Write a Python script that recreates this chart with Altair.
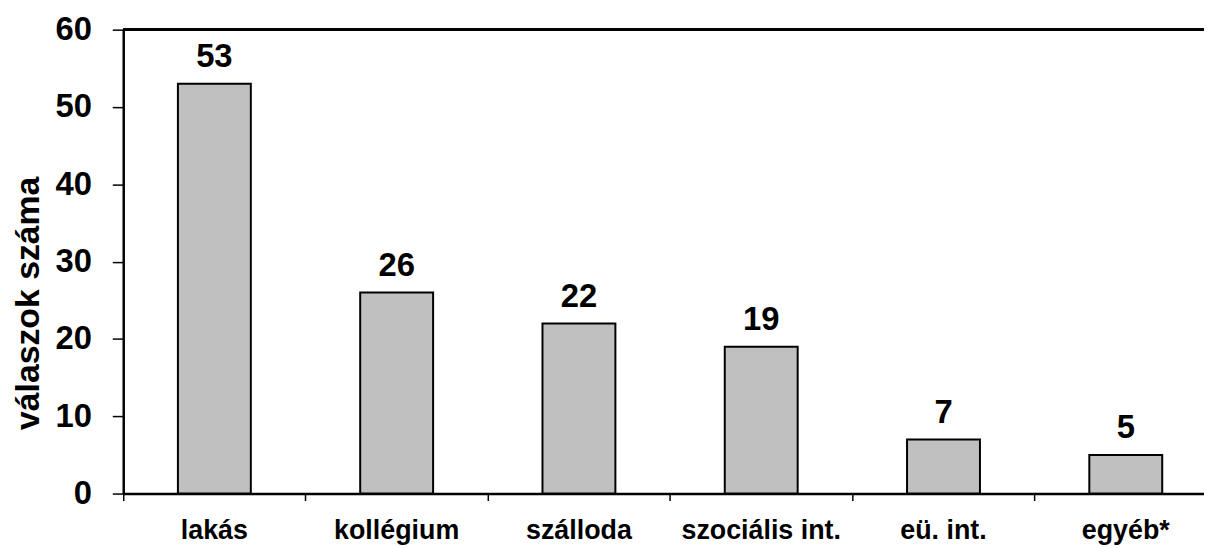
import altair as alt
import pandas as pd

categories = ["lakás", "kollégium", "szálloda", "szociális int.", "eü. int.", "egyéb*"]
values = [53, 26, 22, 19, 7, 5]
y_ticks = [0, 10, 20, 30, 40, 50, 60]

df = pd.DataFrame({"cat": categories, "val": values})

FONT = "Liberation Sans"
STEP_RANGE = 1101

xscale = alt.Scale(domain=categories, range=[0, STEP_RANGE], paddingInner=0, paddingOuter=0)
yscale = alt.Scale(domain=[0, 60])

base = alt.Chart(df)

bars = base.mark_bar(
    width=alt.RelativeBandSize(0.4), color="#C0C0C0", stroke="black", strokeWidth=2
).encode(
    x=alt.X("cat:N", scale=xscale, sort=categories,
            axis=alt.Axis(title=None, labelAngle=0, bandPosition=0,
                          domainColor="black", domainWidth=2.5, tickColor="black", tickWidth=1.5,
                          tickSize=7, labelFont=FONT, labelFontSize=27, labelFontWeight="bold",
                          labelColor="black", labelBaseline="alphabetic", labelPadding=38,
                          labelAlign="center")),
    y=alt.Y("val:Q", scale=yscale,
            axis=alt.Axis(title="válaszok száma", values=y_ticks, grid=False,
                          domainColor="black", domainWidth=2.5, tickColor="black", tickWidth=1.5,
                          tickSize=11, labelFont=FONT, labelFontSize=33, labelFontWeight="bold",
                          labelColor="black", labelPadding=21, labelBaseline="middle",
                          titleFont=FONT, titleFontSize=34, titleFontWeight="bold",
                          titleColor="black", titleAngle=-90, titleBaseline="alphabetic",
                          titleAlign="center", titleX=-85, titleY=275)),
)

labels = base.mark_text(
    font=FONT, fontSize=33, fontWeight="bold", color="black", baseline="alphabetic", dy=-17
).encode(
    x=alt.X("cat:N", scale=xscale, sort=categories),
    y=alt.Y("val:Q", scale=yscale),
    text=alt.Text("val:Q"),
)

top_border = base.mark_rule(color="black", strokeWidth=2.5).encode(
    x=alt.value(0), x2=alt.value(STEP_RANGE), y=alt.value(0)
)

chart = alt.layer(bars, labels, top_border).properties(
    width=1088,
    height=467,
    autosize=alt.AutoSizeParams(type="none"),
    padding={"left": 116, "top": 20, "right": 0, "bottom": 52},
).configure_view(stroke=None)

chart.save("out.html", embed_options={"renderer": "svg", "actions": False})
